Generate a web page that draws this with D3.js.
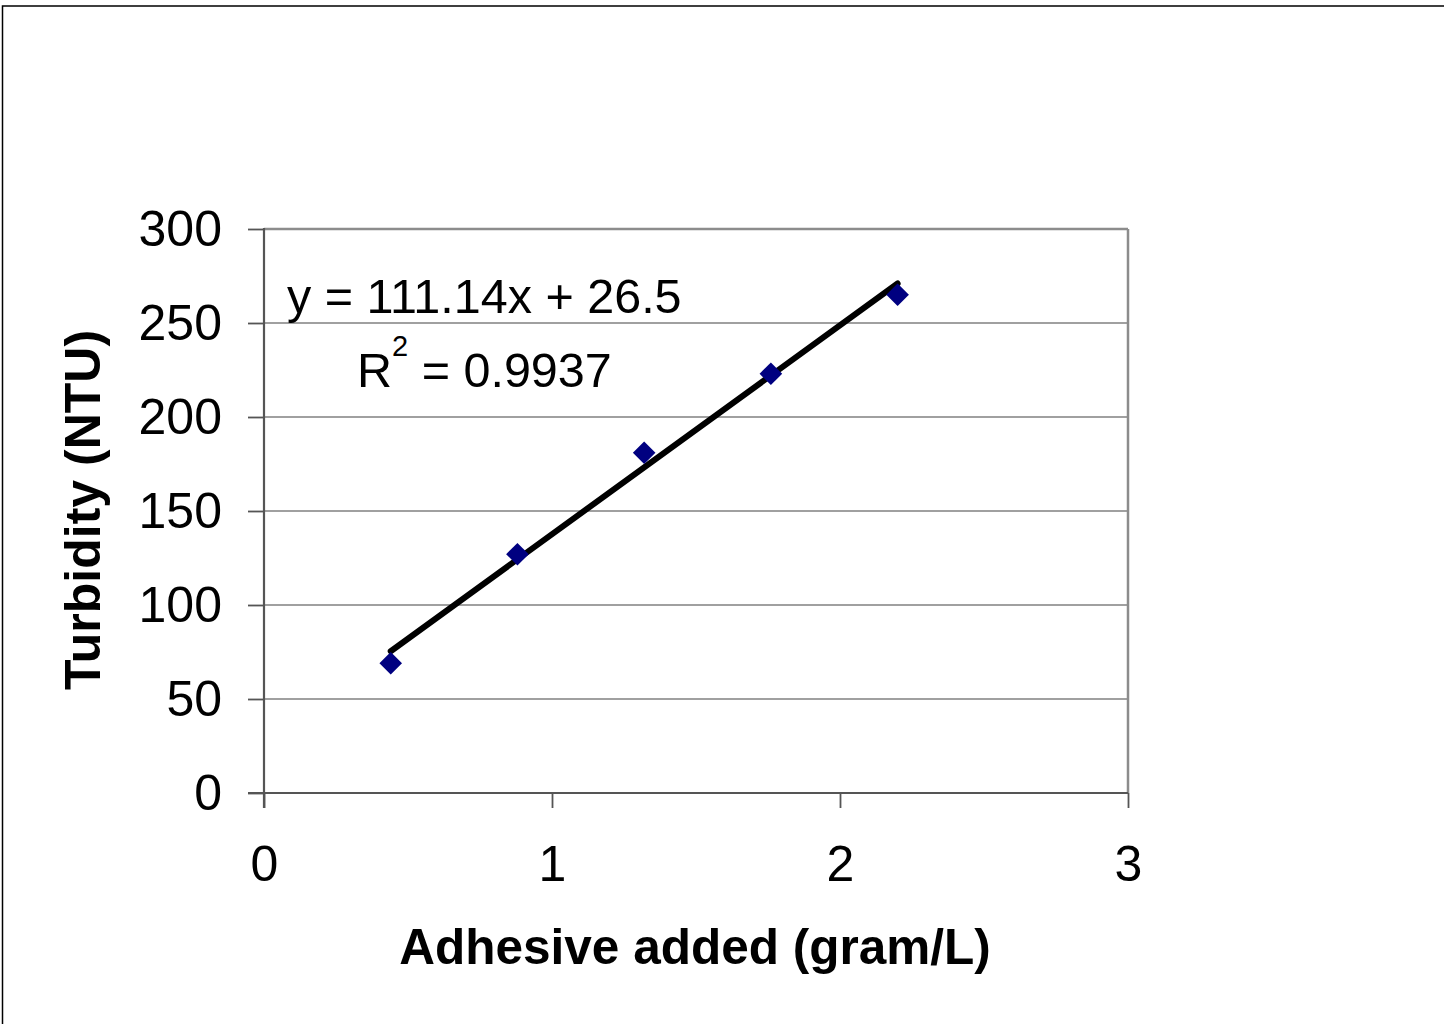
<!DOCTYPE html>
<html>
<head>
<meta charset="utf-8">
<script src="https://cdn.jsdelivr.net/npm/d3@7"></script>
<style>
  html, body { margin: 0; padding: 0; background: #fff; }
  svg { display: block; }
  text { font-family: "Liberation Sans", Arial, sans-serif; fill: #000; }
</style>
</head>
<body>
<script>
// ---- data ----
const xValues = [0.44, 0.88, 1.32, 1.76, 2.2];
const turbidity = [69, 127, 181, 223, 265];
const xTicks = [0, 1, 2, 3];
const yTicks = [0, 50, 100, 150, 200, 250, 300];
const trendSlope = 111.14;
const trendIntercept = 26.5;
const rSquared = 0.9937;
const xTitle = "Adhesive added (gram/L)";
const yTitle = "Turbidity (NTU)";

const W = 1444, H = 1024;
const plot = { left: 264, right: 1128, top: 229, bottom: 793 };

const svg = d3.select("body").append("svg").attr("width", W).attr("height", H);

// outer frame (only top and left edges visible)
svg.append("rect").attr("x", 2.5).attr("y", 6).attr("width", W + 10).attr("height", H + 10)
  .attr("fill", "none").attr("stroke", "#000").attr("stroke-width", 1.5);

const x = d3.scaleLinear().domain([0, 3]).range([plot.left, plot.right]);
const y = d3.scaleLinear().domain([0, 300]).range([plot.bottom, plot.top]);

// gridlines
svg.append("g").selectAll("line").data(yTicks.filter(d => d > 0))
  .join("line")
  .attr("x1", plot.left).attr("x2", plot.right)
  .attr("y1", d => y(d)).attr("y2", d => y(d))
  .attr("stroke", d => d === 300 ? "#8c8c8c" : "#808080")
  .attr("stroke-width", d => d === 300 ? 2.5 : 1.3);

// right border
svg.append("line").attr("x1", plot.right).attr("x2", plot.right)
  .attr("y1", plot.top).attr("y2", plot.bottom)
  .attr("stroke", "#8c8c8c").attr("stroke-width", 2.5);

// axes
const yAxis = d3.axisLeft(y).tickValues(yTicks).tickSize(16).tickPadding(26).tickFormat(d3.format("d"));
const gy = svg.append("g").attr("transform", `translate(${plot.left},0)`).call(yAxis);
const xAxis = d3.axisBottom(x).tickValues(xTicks).tickSize(15).tickPadding(37).tickFormat(d3.format("d"));
const gx = svg.append("g").attr("transform", `translate(0,${plot.bottom})`).call(xAxis);

[gx, gy].forEach(g => {
  g.select(".domain").remove();
  g.selectAll(".tick line").attr("stroke", "#555").attr("stroke-width", 1.8);
  g.selectAll(".tick text").attr("font-size", 50).attr("font-family", "Liberation Sans, Arial, sans-serif").attr("fill", "#000");
});

// left and bottom axis lines
svg.append("line").attr("x1", plot.left).attr("x2", plot.left)
  .attr("y1", plot.top - 1).attr("y2", plot.bottom + 15)
  .attr("stroke", "#555").attr("stroke-width", 2.2);
svg.append("line").attr("x1", plot.left - 16).attr("x2", plot.right)
  .attr("y1", plot.bottom).attr("y2", plot.bottom)
  .attr("stroke", "#555").attr("stroke-width", 2.2);

// trendline
const x0 = d3.min(xValues), x1 = d3.max(xValues);
const trend = [x0, x1].map(v => [v, trendSlope * v + trendIntercept]);
svg.append("path")
  .attr("d", d3.line().x(d => x(d[0])).y(d => y(d[1]))(trend))
  .attr("stroke", "#000").attr("stroke-width", 6).attr("fill", "none")
  .attr("stroke-linecap", "round");

// markers
const diamond = d3.symbol().type(d3.symbolSquare).size(16 * 16);
svg.append("g").selectAll("path").data(xValues.map((v, i) => [v, turbidity[i]]))
  .join("path")
  .attr("d", diamond)
  .attr("transform", d => `translate(${x(d[0])},${y(d[1])}) rotate(45)`)
  .attr("fill", "#000080");

// equation labels
svg.append("text").attr("x", 287).attr("y", 313).attr("font-size", 48.5)
  .text(`y = ${trendSlope}x + ${trendIntercept}`);
const r2 = svg.append("text").attr("x", 357).attr("y", 387).attr("font-size", 48.5);
r2.append("tspan").text("R");
r2.append("tspan").attr("font-size", 29).attr("dy", -31).text("2");
r2.append("tspan").attr("dy", 31).text(` = ${rSquared}`);

// axis titles
svg.append("text").attr("x", 695).attr("y", 964).attr("text-anchor", "middle")
  .attr("font-size", 49.5).attr("font-weight", "bold").text(xTitle);
svg.append("text").attr("transform", "translate(100,510) rotate(-90)")
  .attr("text-anchor", "middle").attr("font-size", 50).attr("font-weight", "bold").text(yTitle);
</script>
</body>
</html>
